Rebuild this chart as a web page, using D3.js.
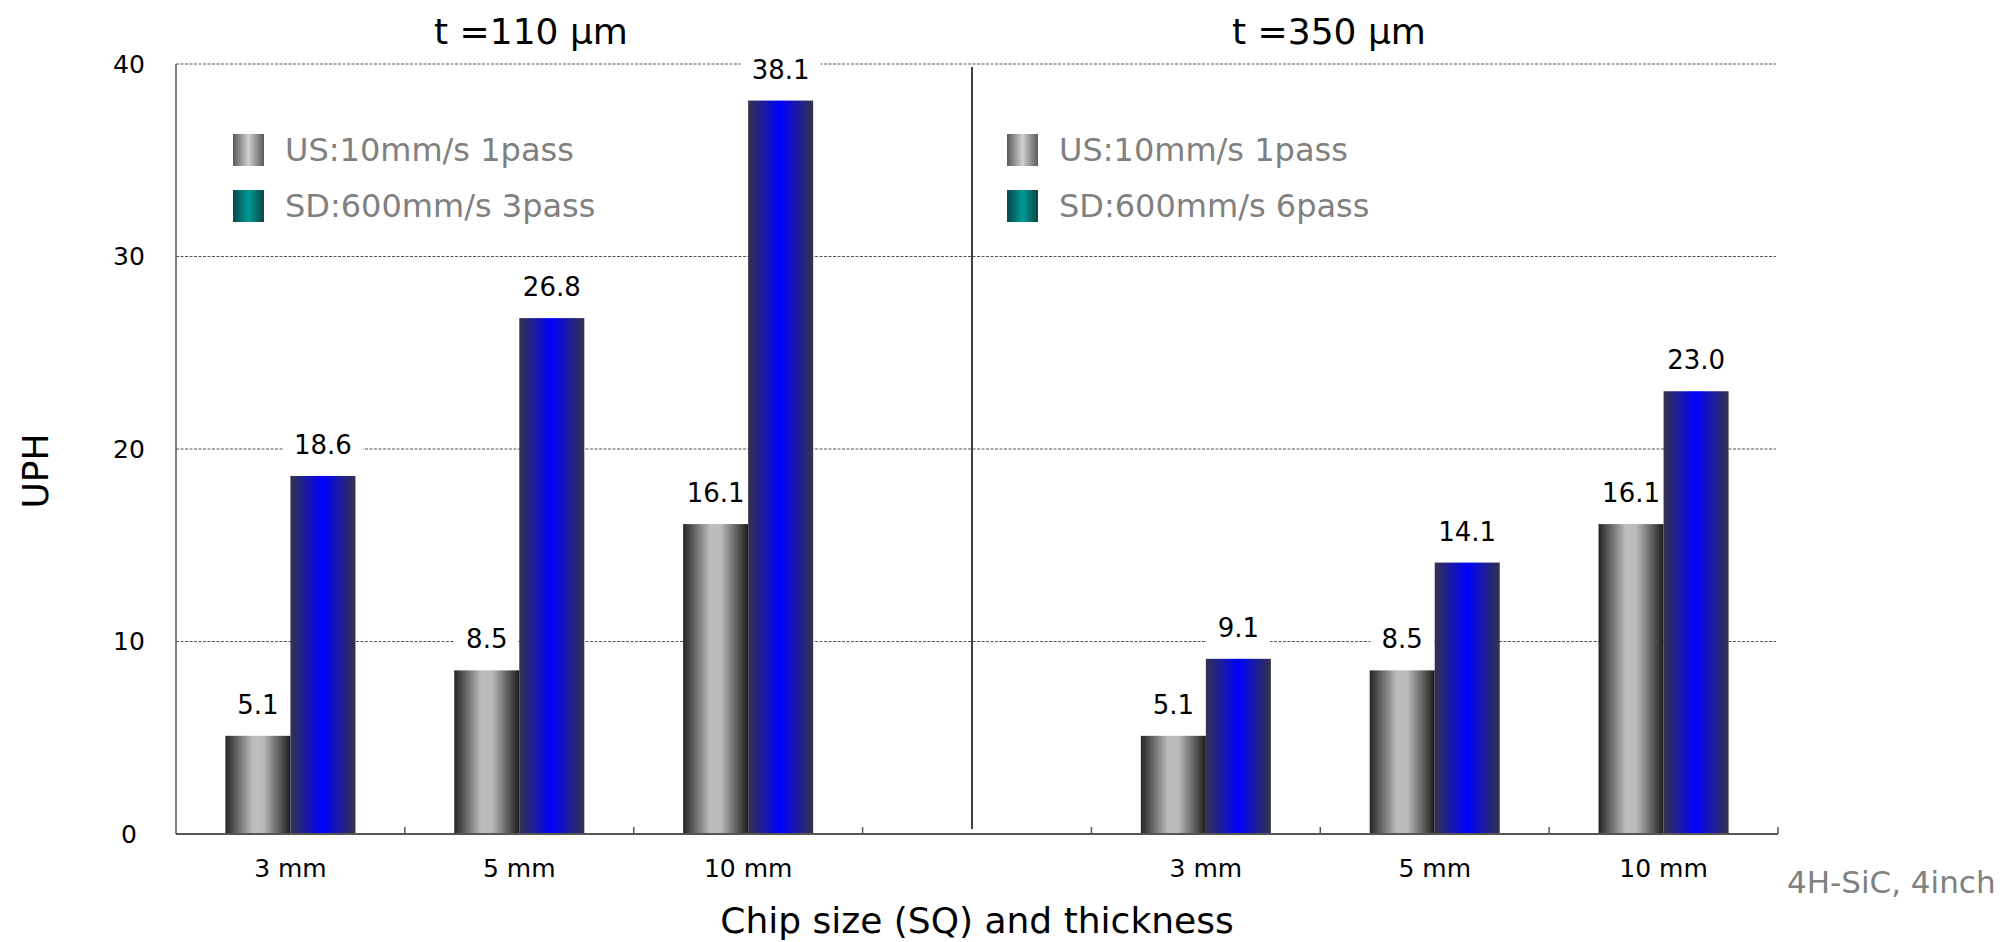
<!DOCTYPE html>
<html>
<head>
<meta charset="utf-8">
<script src="https://cdn.jsdelivr.net/npm/d3@7"></script>
<style>
  html, body { margin: 0; padding: 0; background: #fff; }
  svg { display: block; font-family: 'DejaVu Sans', Verdana, sans-serif; }
</style>
</head>
<body>
<div class="chart"></div>
<script>
// data
var panelTitles = ['t =110 μm', 't =350 μm'];
var chipSizes = ['3 mm', '5 mm', '10 mm'];
var us110 = [5.1, 8.5, 16.1];
var sd110 = [18.6, 26.8, 38.1];
var us350 = [5.1, 8.5, 16.1];
var sd350 = [9.1, 14.1, 23.0];
var legend110 = ['US:10mm/s 1pass', 'SD:600mm/s 3pass'];
var legend350 = ['US:10mm/s 1pass', 'SD:600mm/s 6pass'];
var yTicks = [0, 10, 20, 30, 40];
var seriesKeys = ['US', 'SD'];

const W = 2003, H = 942;
var margin = {top: 64, right: 225, bottom: 108, left: 176};   // plot = 176..1778 x 64..834

// slots: 3 per panel + one empty slot between
var slots = chipSizes.map(d => '110|' + d).concat(['gap'], chipSizes.map(d => '350|' + d));
var rows = [];
chipSizes.forEach((c, i) => {
    rows.push({slot: '110|' + c, key: 'US', value: us110[i]});
    rows.push({slot: '110|' + c, key: 'SD', value: sd110[i]});
    rows.push({slot: '350|' + c, key: 'US', value: us350[i]});
    rows.push({slot: '350|' + c, key: 'SD', value: sd350[i]});
});

var svg = d3.select('.chart').append('svg')
    .attr('width', W).attr('height', H);

var x = d3.scaleBand().domain(slots).range([margin.left, W - margin.right]).padding(0);
var xInner = d3.scaleBand().domain(seriesKeys).range([0, x.bandwidth()])
    .paddingInner(0).paddingOuter(0.76);
var y = d3.scaleLinear().domain([0, 40]).range([H - margin.bottom, margin.top]);

// gradients
var defs = svg.append('defs');
function hGrad(id, stops) {
    var g = defs.append('linearGradient').attr('id', id)
        .attr('x1', '0%').attr('x2', '100%').attr('y1', '0%').attr('y2', '0%');
    stops.forEach(s => g.append('stop').attr('offset', s[0]).attr('stop-color', s[1]));
}
hGrad('gUS', [[0, '#242424'], [0.42, '#bdbdbd'], [0.58, '#bababa'], [1, '#1c1c1c']]);
hGrad('gSD', [[0, '#33334a'], [0.5, '#0000ff'], [1, '#33334a']]);
hGrad('gLegUS', [[0, '#5a5a5a'], [0.5, '#cfcfcf'], [1, '#5a5a5a']]);
hGrad('gLegSD', [[0, '#0a4646'], [0.5, '#009a96'], [1, '#0a4646']]);

// gridlines
svg.append('g').attr('class', 'grid')
    .selectAll('line').data(yTicks.filter(d => d > 0)).enter().append('line')
    .attr('x1', margin.left).attr('x2', W - margin.right - 2)
    .attr('y1', d => y(d)).attr('y2', d => y(d))
    .attr('stroke', '#555').attr('stroke-width', 1.2)
    .attr('stroke-dasharray', '3,1.5');

// y tick labels
svg.append('g').selectAll('text').data(yTicks).enter().append('text')
    .attr('x', 129).attr('y', d => y(d))
    .attr('text-anchor', 'middle').attr('dominant-baseline', 'central')
    .style('font-size', '25px').attr('fill', '#000')
    .text(d => d);

// value label groups: white boxes go under the bars, text on top
var labX = d => x(d.slot) + xInner(d.key) + xInner.bandwidth() / 2;
var labY = d => y(d.value) - 31;
var boxes = svg.append('g').attr('class', 'labelBoxes');

// bars
var barColor = {US: 'url(#gUS)', SD: 'url(#gSD)'};
svg.append('g').attr('class', 'bars')
    .selectAll('rect').data(rows).enter().append('rect')
    .attr('x', d => x(d.slot) + xInner(d.key))
    .attr('width', xInner.bandwidth())
    .attr('y', d => y(d.value))
    .attr('height', d => y(0) - y(d.value))
    .attr('fill', d => barColor[d.key]);

var labels = svg.append('g').attr('class', 'labels')
    .selectAll('text').data(rows).enter().append('text')
    .attr('x', labX).attr('y', labY)
    .attr('text-anchor', 'middle').attr('dominant-baseline', 'central')
    .style('font-size', '26px').attr('fill', '#000')
    .text(d => d.value.toFixed(1));
labels.each(function() {
    var bb = this.getBBox();
    boxes.append('rect')
        .attr('x', bb.x - 11).attr('y', bb.y - 2)
        .attr('width', bb.width + 22).attr('height', bb.height + 4)
        .attr('fill', '#fff');
});

// axes lines
svg.append('line')
    .attr('x1', margin.left).attr('x2', margin.left)
    .attr('y1', y(40)).attr('y2', y(0))
    .attr('stroke', '#555').attr('stroke-width', 1.5);
svg.append('line')
    .attr('x1', margin.left).attr('x2', W - margin.right)
    .attr('y1', y(0)).attr('y2', y(0))
    .attr('stroke', '#555').attr('stroke-width', 2);
svg.append('g').selectAll('line').data(slots).enter().append('line')
    .attr('x1', d => x(d) + x.bandwidth()).attr('x2', d => x(d) + x.bandwidth())
    .attr('y1', y(0)).attr('y2', y(0) - 7)
    .attr('stroke', '#555').attr('stroke-width', 1.5);

// panel divider
svg.append('line')
    .attr('x1', 972).attr('x2', 972)
    .attr('y1', y(40) + 3).attr('y2', y(0) - 5)
    .attr('stroke', '#000').attr('stroke-width', 1.5);

// x tick labels
svg.append('g').selectAll('text').data(slots.filter(d => d !== 'gap')).enter().append('text')
    .attr('x', d => x(d) + x.bandwidth() / 2).attr('y', 868)
    .attr('text-anchor', 'middle').attr('dominant-baseline', 'central')
    .style('font-size', '25px').attr('fill', '#000')
    .text(d => d.split('|')[1]);

// panel titles
var titleX = [531, 1329];
svg.append('g').selectAll('text').data(panelTitles).enter().append('text')
    .attr('x', (d, i) => titleX[i]).attr('y', 31)
    .attr('text-anchor', 'middle').attr('dominant-baseline', 'central')
    .style('font-size', '36px').attr('fill', '#000')
    .text(d => d);

// legends
function drawLegend(x0, labels) {
    var g = svg.append('g').attr('transform', `translate(${x0}, 0)`);
    var ly = [150, 206];
    var sw = ['url(#gLegUS)', 'url(#gLegSD)'];
    labels.forEach((t, i) => {
        g.append('rect').attr('x', 0).attr('y', ly[i] - 16)
            .attr('width', 31).attr('height', 32).attr('fill', sw[i]);
        g.append('text').attr('x', 52).attr('y', ly[i])
            .attr('dominant-baseline', 'central')
            .style('font-size', '32px').attr('fill', '#808080')
            .text(t);
    });
}
drawLegend(233, legend110);
drawLegend(1007, legend350);

// axis titles
svg.append('text')
    .attr('transform', 'translate(35, 471) rotate(-90)')
    .attr('text-anchor', 'middle').attr('dominant-baseline', 'central')
    .style('font-size', '36px').attr('fill', '#000')
    .text('UPH');
svg.append('text')
    .attr('x', 977).attr('y', 920)
    .attr('text-anchor', 'middle').attr('dominant-baseline', 'central')
    .style('font-size', '36px').attr('fill', '#000')
    .text('Chip size (SQ) and thickness');

svg.append('text')
    .attr('x', 1787).attr('y', 882)
    .attr('dominant-baseline', 'central')
    .style('font-size', '31px').attr('fill', '#808080')
    .text('4H-SiC, 4inch');
</script>
</body>
</html>
